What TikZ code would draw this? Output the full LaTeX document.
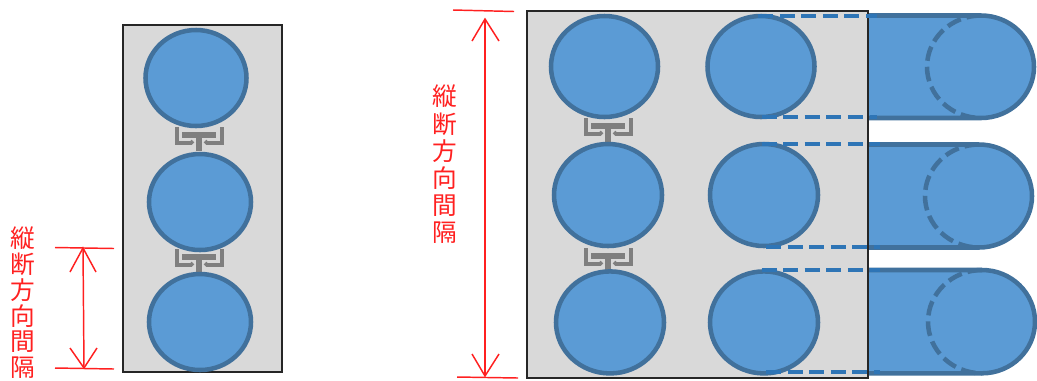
\documentclass[tikz,border=0pt]{standalone}
\usepackage{fontspec}
\newfontfamily\cjk{Noto Sans CJK JP}
\definecolor{fillblue}{HTML}{5B9BD5}
\definecolor{edgeblue}{HTML}{41719C}
\definecolor{dashblue}{HTML}{2E75B6}
\definecolor{panel}{HTML}{D9D9D9}
\definecolor{spring}{HTML}{7F7F7F}
\definecolor{dimred}{HTML}{FF2020}
\tikzset{
  x=0.75pt,y=-0.75pt,
  panelbox/.style={fill=panel,draw=black!85,line width=1.1pt},
  paneledge/.style={draw=black!85,line width=1.1pt},
  pile/.style={fill=fillblue,draw=edgeblue,line width=3.4pt},
  pileedge/.style={draw=edgeblue,line width=3.4pt},
  pilehidden/.style={draw=edgeblue,line width=3.4pt,dash pattern=on 11pt off 4.5pt},
  guide/.style={draw=dashblue,line width=3.2pt,dash pattern=on 11.3pt off 4.9pt},
  joint/.style={draw=spring,line width=2.7pt},
  jointbar/.style={draw=spring,line width=3.8pt},
  dim/.style={draw=dimred,line width=1.1pt},
  dimlabel/.style={text=dimred,font=\cjk\fontsize{18.5pt}{19.3pt}\selectfont,align=center,inner sep=0pt},
  dimlabelwide/.style={dimlabel,font=\cjk\fontsize{18.5pt}{20.3pt}\selectfont},
}
% #1 x of stem, #2 y of the bracket top
\newcommand{\jointat}[2]{%
  \draw[joint] (#1-22,#2) -- (#1-22,#2+16) -- (#1-8,#2+16) -- (#1-6,#2+14);
  \draw[joint] (#1+23,#2) -- (#1+23,#2+16) -- (#1+8,#2+16) -- (#1+6,#2+14);
  \draw[jointbar] (#1-17,#2+8) -- (#1+17,#2+8);
  \draw[jointbar] (#1,#2+8) -- (#1,#2+24);
}
% #1 dashed circle centre x, #2 top y, #3 bottom y
\newcommand{\pilerow}[3]{%
  \fill[fillblue] (868,#2) -- (#1,#2) arc[start angle=-90,end angle=90,x radius=53,y radius=(#3-#2)/2] -- (868,#3) -- cycle;
  \draw[pileedge] (868,#2) -- (#1,#2) arc[start angle=-90,end angle=90,x radius=53,y radius=(#3-#2)/2] -- (868,#3);
  \draw[pilehidden] (#1,#2) arc[start angle=-90,end angle=-270,x radius=54,y radius=(#3-#2)/2];
}
\begin{document}
\begin{tikzpicture}
\useasboundingbox (0,0) rectangle (1037,380);
% left panel
\draw[panelbox] (123,25) rectangle (282,372);
\jointat{199}{127}
\jointat{199}{249}
\draw[pile] (196,78) ellipse[x radius=50.5,y radius=48];
\draw[pile] (200,202) ellipse[x radius=51,y radius=48];
\draw[pile] (200,322) ellipse[x radius=51,y radius=48];
% right panel
\draw[panelbox] (527,11) rectangle (868,378);
\jointat{608}{118}
\jointat{608}{248}
\draw[pile] (604.5,66.5) ellipse[x radius=53.5,y radius=50.5];
\draw[pile] (608,195) ellipse[x radius=54,y radius=51];
\draw[pile] (610,322.4) ellipse[x radius=54,y radius=51];
\draw[pile] (761,66.5) ellipse[x radius=53.5,y radius=50.5];
\draw[pile] (764,195) ellipse[x radius=54,y radius=51];
\draw[pile] (764,322.4) ellipse[x radius=54,y radius=51];
\pilerow{981}{15.5}{118}
\pilerow{979}{144.5}{247.5}
\pilerow{982}{270}{373.3}
\draw[paneledge] (868,11) -- (868,378);
\draw[guide] (758,15.7) -- (877,15.7);
\draw[guide] (761.5,117.3) -- (877,117.3);
\draw[guide] (761.5,144.3) -- (880,144.3);
\draw[guide] (766,246.7) -- (880,246.7);
\draw[guide] (761.5,270) -- (880,270);
\draw[guide] (766,371.7) -- (880,371.7);
% left dimension
\coordinate (lt) at (83,248);
\coordinate (lb) at (84,368);
\draw[dim] (55,247.5) -- (114,248.5);
\draw[dim] (55,368) -- (114,369);
\draw[dim] (lt) -- (lb);
\draw[dim] (70,272) -- (lt) -- (96,272);
\draw[dim] (70,348) -- (lb) -- (97,348);
\node[dimlabel,anchor=north] (leftlabel) at (23,227) {縦\\断\\方\\向\\間\\隔};
% right dimension
\coordinate (rt) at (485,19);
\coordinate (rb) at (485,376);
\draw[dim] (453,10) -- (514,11.5);
\draw[dim] (457,377) -- (518,378);
\draw[dim] (rt) -- (rb);
\draw[dim] (472,41) -- (rt) -- (499,41);
\draw[dim] (472,354) -- (rb) -- (499,354);
\node[dimlabelwide,anchor=north] (rightlabel) at (445,85) {縦\\断\\方\\向\\間\\隔};
\end{tikzpicture}
\end{document}
